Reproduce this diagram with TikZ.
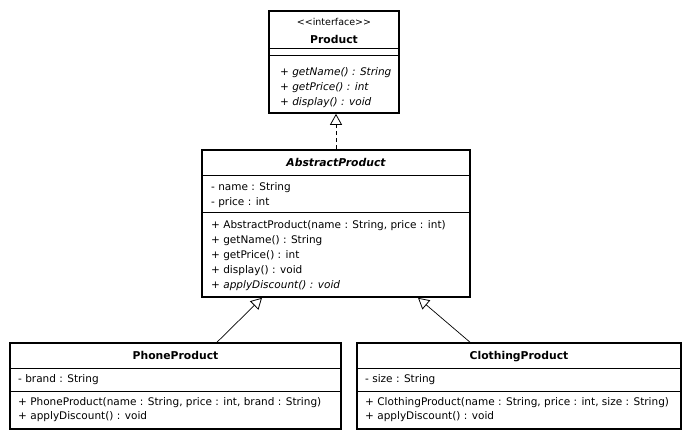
\documentclass[tikz,border=0pt]{standalone}
\usepackage{fontspec}
\setmainfont{DejaVu Sans}
\usetikzlibrary{arrows.meta,calc,positioning}

\tikzset{
	classbox/.style={draw,line width=1.6pt,inner sep=0pt},
	sepline/.style={line width=0.8pt},
	member/.style={anchor=west,inner sep=0pt,text height=9.5pt,text depth=1pt,font=\fontsize{10.5}{12}\selectfont},
	title/.style={inner sep=0pt,text height=9.5pt,text depth=1pt,font=\fontsize{10.8}{12}\selectfont\bfseries},
	inherit/.style={line width=0.7pt,-{Triangle[open,length=11pt,width=12pt,line width=0.8pt]}},
	realize/.style={inherit,dash pattern=on 4pt off 3pt}
}

\begin{document}
\begin{tikzpicture}[x=1pt,y=-1pt]
	\useasboundingbox (0,0) rectangle (691,440);
	% interface
	\node[classbox,minimum width=130pt,minimum height=102pt] (product) at (334,62) {};
	\draw[sepline] (269,48) -- (399,48);
	\draw[sepline] (269,55) -- (399,55);
	\node[inner sep=0pt,text height=8pt,text depth=1pt,font=\fontsize{9.5}{11}\selectfont] (stereo) at (334,22) {<{}<interface>{}>};
	\node[title] (productname) at (334,39) {Product};
	\node[member] (pm1) at (280,71) {\itshape + getName() : String};
	\node[member] (pm2) at (280,86) {\itshape + getPrice() : int};
	\node[member] (pm3) at (280,101) {\itshape + display() : void};
	% abstract class
	\node[classbox,minimum width=268pt,minimum height=147pt] (abstract) at (336,223.5) {};
	\draw[sepline] (202,175) -- (470,175);
	\draw[sepline] (202,212) -- (470,212);
	\node[title] (abstractname) at (336,162) {\itshape AbstractProduct};
	\node[member] (aa1) at (211,186) {- name : String};
	\node[member] (aa2) at (211,201) {- price : int};
	\node[member] (am1) at (211,224) {+ AbstractProduct(name : String, price : int)};
	\node[member] (am2) at (211,239) {+ getName() : String};
	\node[member] (am3) at (211,254) {+ getPrice() : int};
	\node[member] (am4) at (211,269) {+ display() : void};
	\node[member] (am5) at (211,284) {\itshape + applyDiscount() : void};
	% concrete classes
	\node[classbox,minimum width=331pt,minimum height=86pt] (phone) at (175.5,386) {};
	\draw[sepline] (10,368) -- (341,368);
	\draw[sepline] (10,391) -- (341,391);
	\node[title] (phonename) at (175.5,355) {PhoneProduct};
	\node[member] (pa1) at (18,378) {- brand : String};
	\node[member] (pm4) at (18,401) {+ PhoneProduct(name : String, price : int, brand : String)};
	\node[member] (pm5) at (18,415) {+ applyDiscount() : void};
	\node[classbox,minimum width=324pt,minimum height=86pt] (clothing) at (519,386) {};
	\draw[sepline] (357,368) -- (681,368);
	\draw[sepline] (357,391) -- (681,391);
	\node[title] (clothingname) at (519,355) {ClothingProduct};
	\node[member] (ca1) at (365,378) {- size : String};
	\node[member] (cm1) at (365,401) {+ ClothingProduct(name : String, price : int, size : String)};
	\node[member] (cm2) at (365,415) {+ applyDiscount() : void};
	% relations
	\draw[realize] (abstract.north) -- (abstract.north |- product.south);
	\draw[inherit] ([xshift=41.5pt]phone.north) -- ([xshift=-74pt]abstract.south);
	\draw[inherit] ([xshift=-49pt]clothing.north) -- ([xshift=82pt]abstract.south);
\end{tikzpicture}
\end{document}
